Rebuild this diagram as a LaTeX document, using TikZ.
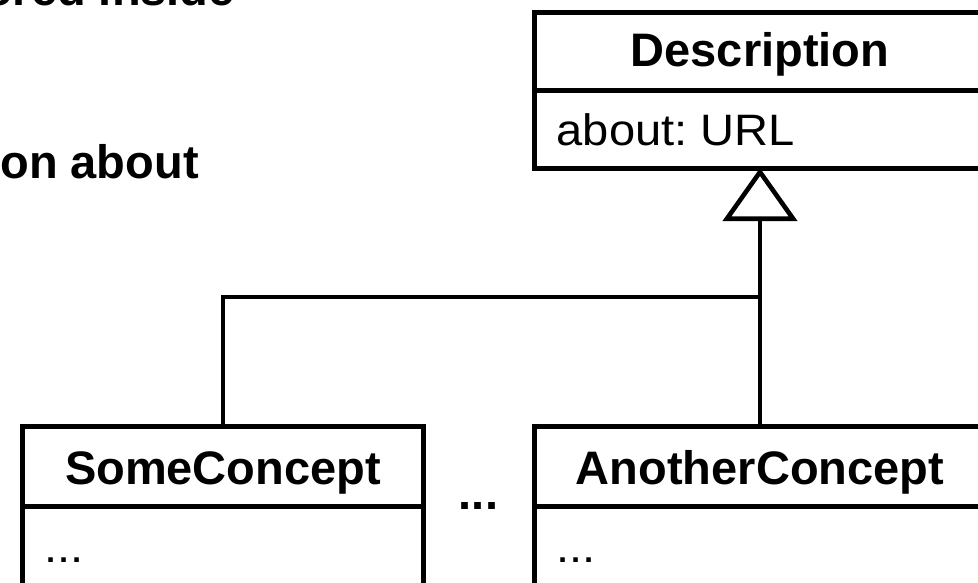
\documentclass[tikz,border=0pt]{standalone}
\usepackage{fontspec}
\setmainfont{Liberation Sans}
\usetikzlibrary{arrows.meta}
\frenchspacing
\newcommand{\wideattr}[1]{\scalebox{1.07}[1]{#1}}
\begin{document}
\begin{tikzpicture}[x=1pt,y=-1pt,
  compart/.style={draw, line width=5pt, rectangle, inner sep=0pt, outer sep=0pt, anchor=north west},
  classname/.style={font=\bfseries\fontsize{47}{56}\selectfont, inner sep=0pt, anchor=base},
  attr/.style={font=\fontsize{44}{52}\selectfont, inner sep=0pt, anchor=base west},
  prose/.style={font=\bfseries\fontsize{47}{56}\selectfont, inner sep=0pt, anchor=base east},
  link/.style={line width=4.6pt},
  generalizes/.style={link, -{Triangle[open, length=53pt, width=74pt]}}
]
\path[use as bounding box, clip] (0,0) rectangle (978,582);

% running text on the left
\node[prose] (line1) at (235,5) {stored inside};
\node[prose] (line2) at (199,178) {information about};

% superclass
\node[compart, minimum width=452pt, minimum height=78pt] (dh) at (534,12) {};
\node[compart, minimum width=452pt, minimum height=78pt] (db) at (dh.south west) {};
\node[classname] (dname) at ([yshift=-15pt]dh.center) {Description};
\node[attr] (dattr) at ([xshift=22.5pt,yshift=-16pt]db.west) {\wideattr{about: URL}};

% subclasses
\node[compart, minimum width=401pt, minimum height=80pt] (sh) at (22.5,426) {};
\node[compart, minimum width=401pt, minimum height=79pt] (sb) at (sh.south west) {};
\node[classname] (sname) at ([yshift=-18pt]sh.center) {SomeConcept};
\node[attr] (sattr) at ([xshift=22pt,yshift=-16.5pt]sb.west) {\wideattr{...}};

\node[compart, minimum width=452pt, minimum height=80pt] (ah) at (534,426) {};
\node[compart, minimum width=452pt, minimum height=79pt] (ab) at (ah.south west) {};
\node[classname] (aname) at ([yshift=-18pt]ah.center) {AnotherConcept};
\node[attr] (aattr) at ([xshift=22pt,yshift=-16.5pt]ab.west) {\wideattr{...}};

\node[classname] (gap) at (478.5,509) {...};

% generalization
\coordinate (fork) at (ah.north |- 0,297);
\draw[generalizes] (ah.north) -- (db.south);
\draw[link] (sh.north) |- (fork);
\end{tikzpicture}
\end{document}
